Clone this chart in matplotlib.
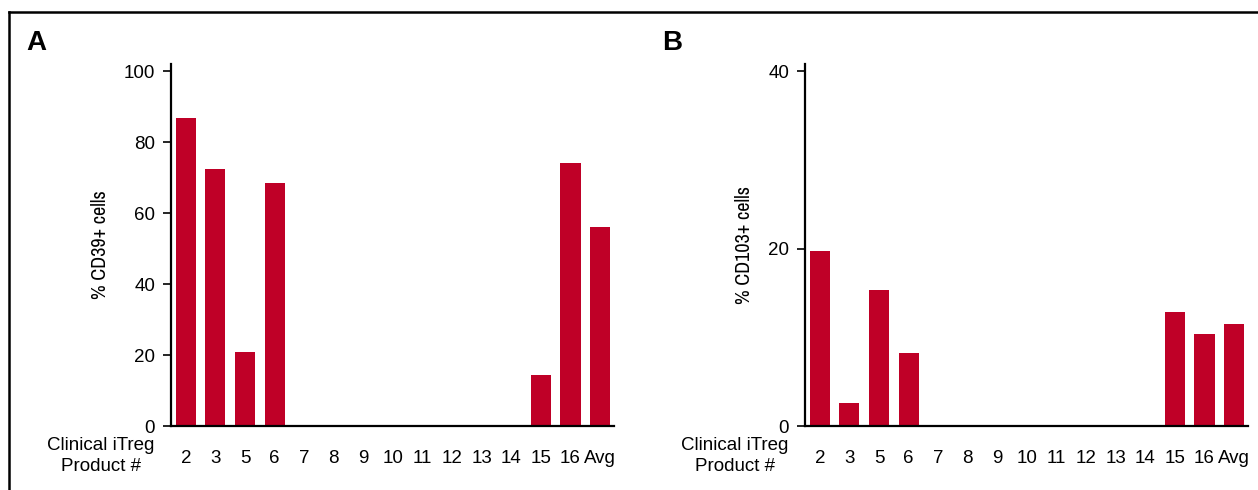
import matplotlib
matplotlib.use("Agg")
import matplotlib.pyplot as plt
from matplotlib.lines import Line2D
from matplotlib import font_manager
import numpy as np

# clinical iTreg product numbers
products = ["2", "3", "5", "6", "7", "8", "9", "10", "11", "12", "13", "14", "15", "16", "Avg"]
cd39 = [86.9, 72.3, 20.8, 68.5, 0, 0, 0, 0, 0, 0, 0, 0, 14.3, 74.0, 56.0]
cd103 = [19.7, 2.6, 15.3, 8.2, 0, 0, 0, 0, 0, 0, 0, 0, 12.8, 10.4, 11.5]

W, H = 1258, 490
bar_color = "#BF0027"
plt.rcParams["font.family"] = ["Liberation Sans", "DejaVu Sans"]

# condensed face for the axis titles, if one is installed
narrow = None
for f in font_manager.fontManager.ttflist:
    if "Narrow" in f.name or ("DejaVu Sans" in f.name and "ondensed" in f.fname and "Bold" not in f.fname
                               and "Oblique" not in f.fname):
        narrow = f.fname
        if "Narrow" in f.name and "Bold" not in f.fname and "Italic" not in f.fname:
            break
label_font = font_manager.FontProperties(fname=narrow, size=14.5) if narrow else \
    font_manager.FontProperties(family="Liberation Sans", size=13)

fig = plt.figure(figsize=(W / 100, H / 100), dpi=100)

def panel(left, right, values, ytop, yticks, ylabel, ylabel_x, letter, letter_x, note_x):
    ax = fig.add_axes([left / W, 1 - 426 / H, (right - left) / W, (426 - 64) / H])
    x = np.arange(len(products))
    ax.bar(x, values, width=0.68, color=bar_color)
    ax.set_xlim(-0.5, len(products) - 0.53)
    ax.set_ylim(0, ytop)
    ax.set_yticks(yticks)
    ax.set_xticks(x)
    ax.set_xticklabels(products)
    for s in ["top", "right"]:
        ax.spines[s].set_visible(False)
    ax.spines["left"].set_linewidth(1.6)
    ax.spines["bottom"].set_linewidth(1.6)
    ax.tick_params(axis="y", length=6, width=1.2, pad=5.5, labelsize=13.5)
    ax.tick_params(axis="x", length=0, pad=17, labelsize=13.5)
    fig.text(ylabel_x / W, 1 - 245 / H, ylabel, rotation=90, ha="center", va="center",
             fontproperties=label_font)
    fig.text(letter_x / W, 1 - 43 / H, letter, ha="left", va="center",
             fontsize=20, fontweight="bold")
    fig.text(note_x / W, 1 - 456 / H, "Clinical iTreg\nProduct #", ha="center", va="center",
             fontsize=13.5, linespacing=1.35)
    return ax

panel(171, 614, cd39, 102, [0, 20, 40, 60, 80, 100], "% CD39+ cells", 100, "A", 26, 101)
panel(805, 1248, cd103, 40.8, [0, 20, 40], "% CD103+ cells", 744, "B", 662, 735)

# frame around the figure panel
fig.add_artist(Line2D([9 / W, 9 / W], [0, 1 - 12 / H], color="black", lw=1.8,
                      transform=fig.transFigure, solid_capstyle="projecting"))
fig.add_artist(Line2D([9 / W, 1], [1 - 12 / H, 1 - 12 / H], color="black", lw=1.8,
                      transform=fig.transFigure, solid_capstyle="projecting"))

fig.savefig("out.png", dpi=100)
